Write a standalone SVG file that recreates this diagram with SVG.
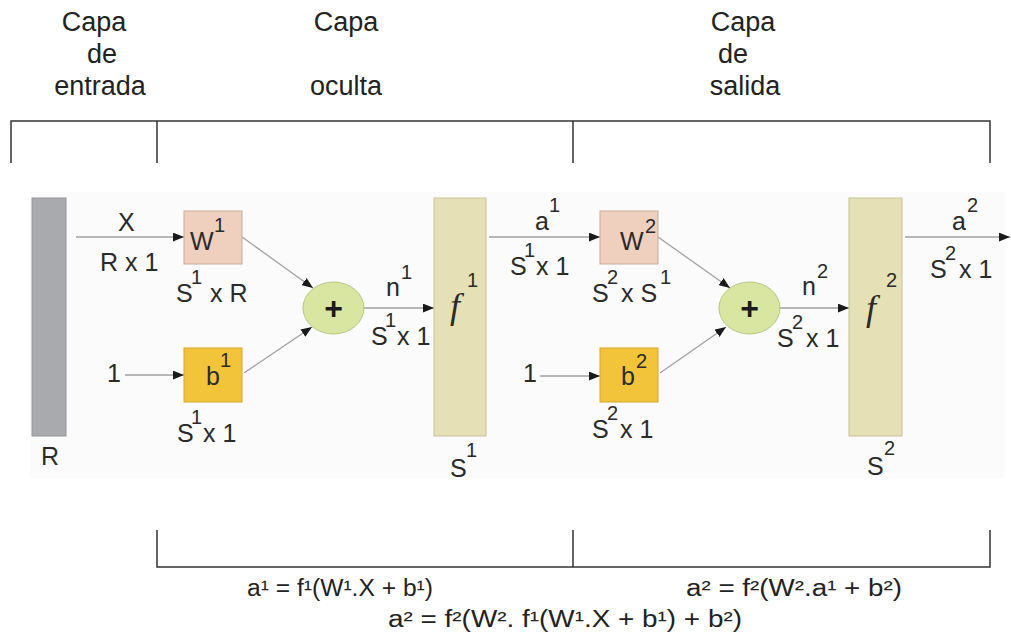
<svg xmlns="http://www.w3.org/2000/svg" width="1011" height="640" viewBox="0 0 1011 640">
<style>
.t{font-family:"Liberation Sans",Arial,sans-serif;font-size:25px;fill:#2a2a2a}
.s{font-size:20px}
.plus{font-family:"Liberation Sans",Arial,sans-serif;font-size:32px;font-weight:bold;fill:#1a1a1a;text-anchor:middle}
.h{font-family:"Liberation Sans",Arial,sans-serif;font-size:27px;fill:#222;text-anchor:middle}
.fx{font-family:"Liberation Serif","Times New Roman",serif;font-style:italic;font-size:36px;fill:#2a2a2a}
.eq{font-family:"Liberation Sans",Arial,sans-serif;font-size:23px;fill:#222}
.br{stroke:#333;stroke-width:1.5;fill:none}
.ln{stroke:#a0a0a0;stroke-width:1.3;fill:none}
.ar{marker-end:url(#ah)}
</style>
<defs>
<marker id="ah" viewBox="0 0 10 8" refX="10" refY="4" markerWidth="11" markerHeight="9" orient="auto" markerUnits="userSpaceOnUse"><path d="M0,0 L10,4 L0,8 z" fill="#1a1a1a"/></marker>
</defs>
<rect width="1011" height="640" fill="#ffffff"/>
<rect x="30" y="192" width="975" height="286" fill="#fbfbfb"/>

<g id="headers">
<text class="h" x="94" y="31">Capa</text>
<text class="h" x="102" y="63">de</text>
<text class="h" x="100" y="95">entrada</text>
<text class="h" x="346" y="31">Capa</text>
<text class="h" x="346" y="95">oculta</text>
<text class="h" x="743" y="31">Capa</text>
<text class="h" x="733" y="63">de</text>
<text class="h" x="745" y="95">salida</text>
</g>

<g id="brackets">
<path class="br" d="M11,163 V121 H990 V163 M157,121 V163 M573,121 V163"/>
<path class="br" d="M157,530 V567 H990 V530 M573,530 V567"/>
</g>

<g id="connectors">
<line class="ln ar" x1="76" y1="237" x2="184" y2="237"/>
<line class="ln ar" x1="125" y1="375" x2="184" y2="375"/>
<line class="ln ar" x1="242" y1="237" x2="313" y2="288"/>
<line class="ln ar" x1="244" y1="373" x2="312" y2="327"/>
<line class="ln ar" x1="364" y1="308" x2="434" y2="308"/>
<line class="ln ar" x1="489" y1="237" x2="600" y2="237"/>
<line class="ln ar" x1="540" y1="376" x2="600" y2="376"/>
<line class="ln ar" x1="658" y1="237" x2="730" y2="288"/>
<line class="ln ar" x1="660" y1="373" x2="726" y2="327"/>
<line class="ln ar" x1="780" y1="308" x2="849" y2="308"/>
<line class="ln ar" x1="905" y1="237" x2="1010" y2="237"/>
</g>

<g id="input">
<rect x="32" y="198" width="34" height="238" fill="#a9aaae" stroke="#96979b" stroke-width="1"/>
<text class="t" x="41" y="465">R</text>
</g>
<g id="input-labels">
<text class="t" x="118" y="231">X</text>
<text class="t" x="100" y="271">R x 1</text>
<text class="t" x="107" y="382">1</text>
<text class="t" x="523" y="382">1</text>
</g>

<g id="W1">
<rect x="184" y="211" width="58" height="53" fill="#efd0bf" stroke="#c9ab9a" stroke-width="1"/>
<text class="t" x="190" y="250">W</text><text class="t s" x="214" y="232">1</text>
<text class="t" x="176" y="302">S</text><text class="t s" x="191" y="284">1</text><text class="t" x="210" y="302">x R</text>
</g>

<g id="b1">
<rect x="184" y="348" width="58" height="54" fill="#f2c43a" stroke="#d3a72c" stroke-width="1"/>
<text class="t" x="206" y="385">b</text><text class="t s" x="220" y="367">1</text>
<text class="t" x="177" y="442">S</text><text class="t s" x="191" y="424">1</text><text class="t" x="203" y="442">x 1</text>
</g>

<g id="sum1">
<ellipse cx="333.5" cy="308" rx="30.5" ry="26" fill="#d8e6a2" stroke="#b6c785" stroke-width="1"/>
<text class="plus" x="333.5" y="319">+</text>
<text class="t" x="386" y="296">n</text><text class="t s" x="401" y="279">1</text>
<text class="t" x="371" y="345">S</text><text class="t s" x="385" y="327">1</text><text class="t" x="397" y="345">x 1</text>
</g>

<g id="f1">
<rect x="434" y="198" width="52" height="238" fill="#e6e0b6" stroke="#c8c198" stroke-width="1"/>
<text class="fx" x="450" y="318">f</text><text class="t s" x="467" y="287">1</text>
<text class="t" x="450" y="477">S</text><text class="t s" x="466" y="457">1</text>
</g>

<g id="a1-labels">
<text class="t" x="535" y="230">a</text><text class="t s" x="549" y="212">1</text>
<text class="t" x="510" y="275">S</text><text class="t s" x="524" y="257">1</text><text class="t" x="536" y="275">x 1</text>
</g>

<g id="W2">
<rect x="600" y="211" width="58" height="53" fill="#efd0bf" stroke="#c9ab9a" stroke-width="1"/>
<text class="t" x="620" y="250">W</text><text class="t s" x="645" y="233">2</text>
<text class="t" x="592" y="302">S</text><text class="t s" x="607" y="284">2</text><text class="t" x="621" y="302">x S</text><text class="t s" x="660" y="284">1</text>
</g>

<g id="b2">
<rect x="600" y="348" width="58" height="54" fill="#f2c43a" stroke="#d3a72c" stroke-width="1"/>
<text class="t" x="621" y="385">b</text><text class="t s" x="636" y="368">2</text>
<text class="t" x="592" y="438">S</text><text class="t s" x="607" y="420">2</text><text class="t" x="620" y="438">x 1</text>
</g>

<g id="sum2">
<ellipse cx="749.5" cy="308" rx="30.5" ry="26" fill="#d8e6a2" stroke="#b6c785" stroke-width="1"/>
<text class="plus" x="749.5" y="319">+</text>
<text class="t" x="802" y="295">n</text><text class="t s" x="817" y="278">2</text>
<text class="t" x="777" y="347">S</text><text class="t s" x="792" y="329">2</text><text class="t" x="806" y="347">x 1</text>
</g>

<g id="f2">
<rect x="849" y="198" width="53" height="238" fill="#e6e0b6" stroke="#c8c198" stroke-width="1"/>
<text class="fx" x="866" y="320">f</text><text class="t s" x="886" y="287">2</text>
<text class="t" x="867" y="475">S</text><text class="t s" x="884" y="455">2</text>
</g>

<g id="a2-labels">
<text class="t" x="952" y="230">a</text><text class="t s" x="967" y="212">2</text>
<text class="t" x="930" y="278">S</text><text class="t s" x="945" y="260">2</text><text class="t" x="959" y="278">x 1</text>
</g>

<g id="equations">
<text class="eq" x="247" y="596" textLength="186" lengthAdjust="spacingAndGlyphs">a¹ = f¹(W¹.X + b¹)</text>
<text class="eq" x="686" y="596" textLength="216" lengthAdjust="spacingAndGlyphs">a² = f²(W².a¹ + b²)</text>
<text class="eq" x="388" y="627" textLength="354" lengthAdjust="spacingAndGlyphs">a² = f²(W². f¹(W¹.X + b¹) + b²)</text>
</g>
</svg>
